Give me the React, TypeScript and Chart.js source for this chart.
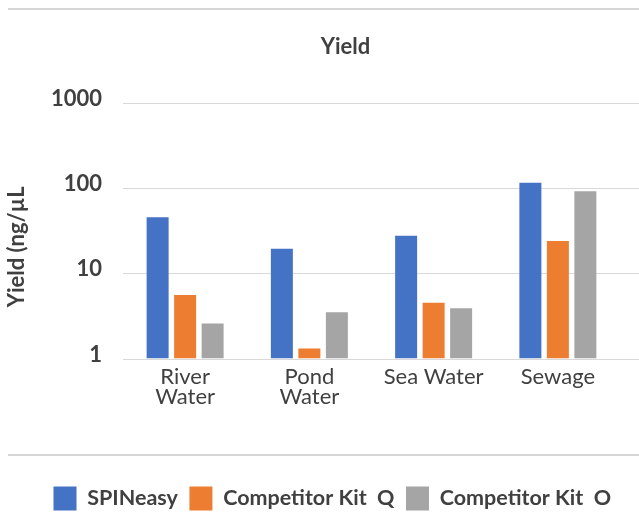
import React, { useEffect, useRef } from "react";
import { Chart, registerables } from "chart.js";

Chart.register(...registerables);

const categories: (string | string[])[] = [["River", "Water"], ["Pond", "Water"], "Sea Water", "Sewage"];
const seriesNames = ["SPINeasy", "Competitor Kit  Q", "Competitor Kit  O"];
const spineasy = [45.6, 19.5, 27.7, 116];
const kitQ = [5.56, 1.31, 4.51, 24];
const kitO = [2.58, 3.5, 3.88, 92];
const yTicks = [1, 10, 100, 1000];
const chartTitle = "Yield";
const yTitle = "Yield (ng/\u00B5L";
const colors = ["#4472C4", "#ED7D31", "#A5A5A5"];

const TEXT = "#404040";
const FONT = "Lato";

const decor = {
  id: "decor",
  afterLayout(chart: any) {
    const t = chart.titleBlock;
    if (t) {
      t.left = 52;
      t.right = 639;
    }
    const lg = chart.legend;
    if (lg) {
      lg.left = 42;
      lg.right = 639;
      const h = lg.bottom - lg.top;
      lg.top = 475;
      lg.bottom = 475 + h;
    }
  },
  beforeDatasetsDraw(chart: any) {
    const { ctx, chartArea, scales } = chart;
    const y = scales.y;
    ctx.save();
    ctx.strokeStyle = "#d9d9d9";
    ctx.lineWidth = 1;
    for (const v of yTicks) {
      const py = Math.round(y.getPixelForValue(v)) + 0.5;
      ctx.beginPath();
      ctx.moveTo(chartArea.left, py);
      ctx.lineTo(chart.width, py);
      ctx.stroke();
    }
    ctx.strokeStyle = "#d6d6d6";
    ctx.lineWidth = 2;
    for (const py of [9, 455]) {
      ctx.beginPath();
      ctx.moveTo(8, py);
      ctx.lineTo(chart.width, py);
      ctx.stroke();
    }
    ctx.restore();
  },
};

export default function App() {
  const ref = useRef<HTMLCanvasElement>(null);
  useEffect(() => {
    if (!ref.current) return;
    const chart = new Chart(ref.current, {
      type: "bar",
      data: {
        labels: categories,
        datasets: [spineasy, kitQ, kitO].map((d, i) => ({
          label: seriesNames[i],
          data: d,
          backgroundColor: colors[i],
          borderWidth: 0,
          categoryPercentage: 0.664,
          barPercentage: 0.8,
        })),
      },
      options: {
        responsive: false,
        animation: false,
        layout: { padding: { left: 0, right: 19, top: 0, bottom: 0 } },
        plugins: {
          title: {
            display: true,
            text: chartTitle,
            color: TEXT,
            font: { family: FONT, size: 22, weight: "bold", lineHeight: 1.2 },
            padding: { top: 33.3, bottom: 43.3 },
          },
          legend: {
            position: "bottom",
            align: "start",
            labels: {
              boxWidth: 23,
              boxHeight: 24,
              padding: 11.5,
              color: TEXT,
              font: { family: FONT, size: 21.5, weight: "bold" },
            },
          },
          tooltip: { enabled: false },
        },
        scales: {
          x: {
            grid: { display: false, drawTicks: false },
            border: { display: false },
            ticks: {
              color: TEXT,
              font: { family: FONT, size: 22, lineHeight: 0.91 },
              padding: 8.5,
              maxRotation: 0,
              autoSkip: false,
            },
            afterFit(s: any) {
              s.height = 127;
            },
          },
          y: {
            type: "logarithmic",
            min: 1,
            max: 1000,
            grid: { display: false, drawTicks: false },
            border: { display: false },
            afterBuildTicks(s: any) {
              s.ticks = yTicks.map((v) => ({ value: v }));
            },
            ticks: {
              color: TEXT,
              font: { family: FONT, size: 22, weight: "bold" },
              padding: 21,
              labelOffset: -4,
              callback: (v: any) => String(v),
            },
            title: {
              display: true,
              text: yTitle + "      ",
              color: TEXT,
              font: { family: FONT, size: 22, weight: "bold", lineHeight: 1.2 },
              padding: { top: 3.3, bottom: 0 },
            },
            afterFit(s: any) {
              s.width = 123;
            },
          },
        },
      },
      plugins: [decor],
    });
    return () => chart.destroy();
  }, []);
  return (
    <div style={{ position: "absolute", left: 0, top: 0, width: 639, height: 531, background: "#fff" }}>
      <canvas ref={ref} width={639} height={531} style={{ display: "block" }} />
    </div>
  );
}
